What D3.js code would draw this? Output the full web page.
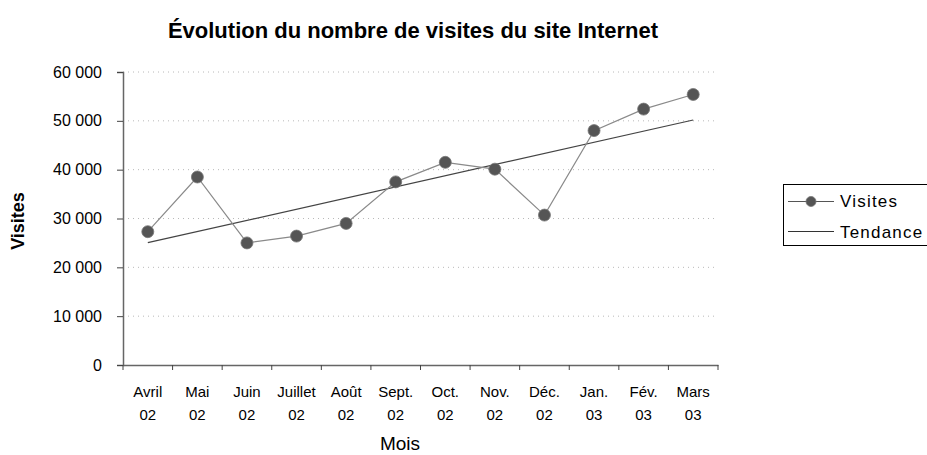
<!DOCTYPE html>
<html><head><meta charset="utf-8">
<script src="https://cdn.jsdelivr.net/npm/d3@7"></script>
<style>
html,body{margin:0;padding:0;background:#fff;}
svg{display:block;font-family:"Liberation Sans",Arial,Helvetica,sans-serif;}
</style></head>
<body><svg id="c" width="927" height="455"></svg>
<script>
const months = ["Avril 02","Mai 02","Juin 02","Juillet 02","Août 02","Sept. 02","Oct. 02","Nov. 02","Déc. 02","Jan. 03","Fév. 03","Mars 03"];
const visites = [27300,38500,25000,26400,29000,37500,41500,40100,30700,48000,52400,55400];
const trendMonths = ["Avril 02","Mars 03"];
const trendValues = [25050,50170];
const yTicks = [0,10000,20000,30000,40000,50000,60000];

const svg = d3.select("#c");
const L=123, R=718, T=72, B=365;
const x = d3.scaleBand().domain(months).range([L,R]);
const y = d3.scaleLinear().domain([0,60000]).range([B,T]);
const fr = d3.formatLocale({decimal:",",thousands:"\u00a0",grouping:[3],currency:["","€"]});
const fmt = fr.format(",d");
const cx = m => x(m)+x.bandwidth()/2;

// grid
svg.append("g").selectAll("line").data(yTicks.filter(d=>d>0)).join("line")
  .attr("x1",L).attr("x2",R).attr("y1",d=>y(d)).attr("y2",d=>y(d))
  .attr("stroke","#b8b8b8").attr("stroke-width",1).attr("stroke-dasharray","1,4");

// y axis
const ya = svg.append("g").attr("transform",`translate(${L},0)`)
  .call(d3.axisLeft(y).tickValues(yTicks).tickFormat(fmt).tickSize(6).tickPadding(15));
ya.select(".domain").attr("stroke","#666").attr("stroke-width",1.5);
ya.selectAll(".tick line").attr("stroke","#444");
ya.selectAll("text").attr("font-size",16).attr("fill","#000").attr("font-family","inherit");

// x axis
const xa = svg.append("g").attr("transform",`translate(0,${B})`)
  .call(d3.axisBottom(x).tickSize(0).tickFormat(""));
xa.select(".domain").attr("stroke","#666").attr("stroke-width",1.5);
const bounds = months.map(m=>x(m)).concat([R]);
svg.append("g").selectAll("line").data(bounds).join("line")
  .attr("x1",d=>d).attr("x2",d=>d).attr("y1",B).attr("y2",B+5)
  .attr("stroke","#444").attr("stroke-width",1);
const lab = svg.append("g").selectAll("text").data(months).join("text")
  .attr("x",d=>cx(d)).attr("text-anchor","middle").attr("font-size",15).attr("fill","#000");
lab.append("tspan").attr("x",d=>cx(d)).attr("y",397).text(d=>d.split(" ")[0]);
lab.append("tspan").attr("x",d=>cx(d)).attr("y",420).text(d=>d.split(" ")[1]);

// trend
svg.append("path").datum(trendMonths.map((m,i)=>[cx(m),y(trendValues[i])]))
  .attr("d",d3.line()).attr("fill","none").attr("stroke","#444").attr("stroke-width",1.2);

// visits line
svg.append("path").datum(visites)
  .attr("d",d3.line().x((d,i)=>cx(months[i])).y(d=>y(d)))
  .attr("fill","none").attr("stroke","#8a8a8a").attr("stroke-width",1.2);
svg.append("g").selectAll("circle").data(visites).join("circle")
  .attr("cx",(d,i)=>cx(months[i])).attr("cy",d=>y(d)).attr("r",6)
  .attr("fill","#555").attr("stroke","#777").attr("stroke-width",0.8);

// titles
svg.append("text").attr("x",413).attr("y",38).attr("text-anchor","middle")
  .attr("font-size",22).attr("font-weight","bold").text("Évolution du nombre de visites du site Internet");
svg.append("text").attr("transform","translate(24,221) rotate(-90)").attr("text-anchor","middle")
  .attr("font-size",18).attr("font-weight","bold").text("Visites");
svg.append("text").attr("x",400).attr("y",450).attr("text-anchor","middle")
  .attr("font-size",19).text("Mois");

// legend
const lg = svg.append("g");
lg.append("rect").attr("x",783.5).attr("y",184.5).attr("width",160).attr("height",61)
  .attr("fill","none").attr("stroke","#000").attr("stroke-width",1);
lg.append("line").attr("x1",788).attr("x2",834).attr("y1",201.5).attr("y2",201.5).attr("stroke","#555");
lg.append("circle").attr("cx",811).attr("cy",201.5).attr("r",5).attr("fill","#555").attr("stroke","#777").attr("stroke-width",0.8);
lg.append("line").attr("x1",788).attr("x2",834).attr("y1",231.5).attr("y2",231.5).attr("stroke","#333");
lg.append("text").attr("x",840).attr("y",207).attr("font-size",17).attr("letter-spacing",1.2).text("Visites");
lg.append("text").attr("x",840).attr("y",238).attr("font-size",17).attr("letter-spacing",1.2).text("Tendance");
</script></body></html>
